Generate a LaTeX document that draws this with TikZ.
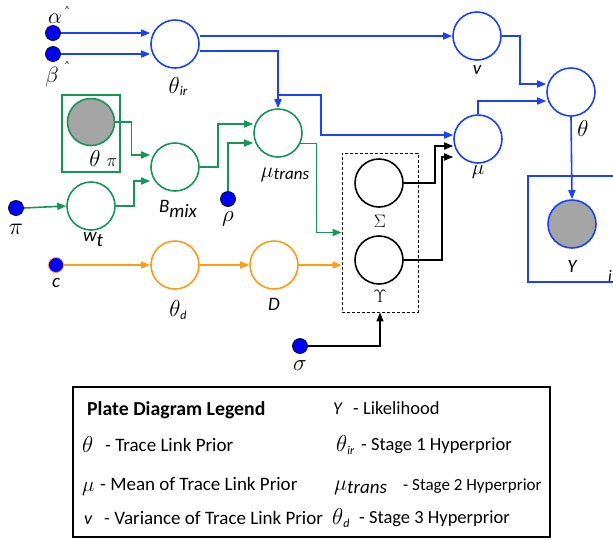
\documentclass[tikz,border=0pt]{standalone}
\usepackage{fix-cm}
\usepackage[no-math]{fontspec}
\setmainfont{Carlito}
\usetikzlibrary{arrows.meta}
\definecolor{pblue}{RGB}{25,65,255}
\definecolor{dblue}{RGB}{0,0,250}
\definecolor{pgreen}{RGB}{20,150,85}
\definecolor{porange}{RGB}{255,155,20}
\definecolor{pgray}{RGB}{165,165,165}
\newcommand{\myfs}[1]{\fontsize{#1}{#1}\selectfont}
\tikzset{
  circ/.style={circle, minimum size=48pt, inner sep=0pt, line width=1.6pt, fill=white},
  bcirc/.style={circ, draw=pblue},
  gcirc/.style={circ, draw=pgreen},
  ocirc/.style={circ, draw=porange},
  kcirc/.style={circ, draw=black},
  hdot/.style={circle, minimum size=15pt, inner sep=0pt, fill=dblue, draw=black, line width=0.7pt},
  tip/.style={-{Triangle[length=9pt,width=7pt]}},
  barr/.style={draw=pblue, line width=1.6pt, tip, pblue},
  garr/.style={draw=pgreen, line width=1.6pt, tip, pgreen},
  oarr/.style={draw=porange, line width=1.6pt, tip, porange},
  karr/.style={draw=black, line width=1.6pt, tip, black},
  lab/.style={inner sep=0pt},
  leg/.style={inner sep=0pt, anchor=base west, font=\myfs{18}},
}
\begin{document}
\begin{tikzpicture}[x=1pt,y=-1pt]
\useasboundingbox (0,0) rectangle (613,539);
\fill[white] (0,0) rectangle (613,539);

% ---- blue part
\node[bcirc] (thir) at (175,44) {};
\node[bcirc] (nu) at (477,36) {};
\node[bcirc] (theta) at (571,92) {};
\node[bcirc] (mu) at (478,139) {};
\draw[pblue, line width=1.6pt] (528,176) rectangle (620,282);
\node[bcirc, fill=pgray] (Y) at (572,224) {};
\node[hdot] (alpha) at (53,33) {};
\node[hdot] (beta) at (53,54) {};

% ---- green part
\draw[pgreen, line width=1.6pt] (62,95) rectangle (120,172);
\node[gcirc, fill=pgray, minimum size=47pt] (thpi) at (91,122) {};
\node[gcirc] (bmix) at (175,167) {};
\node[gcirc] (wt) at (91,206) {};
\node[gcirc] (mutrans) at (278,133) {};
\node[hdot] (pi) at (16,208) {};
\node[hdot] (rho) at (228,199) {};

% ---- black part
\node[draw, dash pattern=on 3pt off 2pt, line width=0.9pt, minimum width=76pt, minimum height=159pt, inner sep=0pt] (box) at (380,232.5) {};
\node[kcirc] (Sig) at (379,183) {};
\node[kcirc] (Ups) at (379,260) {};
\node[hdot] (sigma) at (300,346) {};

% ---- orange part
\node[hdot, draw=porange] (c) at (56,265) {};
\node[ocirc] (thd) at (175,265) {};
\node[ocirc] (D) at (274,265) {};

% ---- blue connectors
\draw[barr] (alpha.east) -- (alpha -| thir.west);
\draw[barr] (beta.east) -- (beta -| thir.west);
\draw[barr] (thir.east |- nu) -- (nu.west);
\draw[barr] ([yshift=-7pt]thir.east) -| (mutrans.north);
\coordinate (br) at (278,95);
\draw[barr] (br) -- ++(43,0) |- ([yshift=4pt]mu.west);
\draw[barr] (nu.east) -- ++(18,0) |- ([yshift=8pt]theta.west);
\draw[barr] (mu.north) |- ([yshift=-9pt]theta.west);
\draw[barr] (theta.south) -- (Y.north);

% ---- green connectors
\draw[garr] (thpi.east) -- ++(16,0) |- ([yshift=12pt]bmix.west);
\draw[garr] (wt.east) -- ++(18,0) |- ([yshift=-14pt]bmix.west);
\draw[garr] (pi.east) -- (wt.west);
\draw[garr] (bmix.east) -- ++(18,0) |- ([yshift=9pt]mutrans.west);
\draw[garr] (rho.north) |- ([yshift=-10pt]mutrans.west);
\draw[garr] (mutrans.-25) -- ++(16,0) |- (box.west);

% ---- black connectors
\draw[karr] (Sig.east) -- ++(31,0) |- ([yshift=-7pt]mu.west);
\draw[karr] (Ups.east) -- ++(38,0) |- ([yshift=-18pt]mu.west);
\draw[karr] (sigma.east) -| (box.south);

% ---- orange connectors
\draw[oarr] (c.east) -- (thd.west);
\draw[oarr] (thd.east) -- (D.west);
\draw[oarr] (D.east) -- (D -| box.west);

% ---- labels
\node[lab] (lalpha) at (55,19) {\myfs{22}$\alpha$};
\node[lab] (lalphah) at (67,9) {\myfs{9}\textasciicircum};
\node[lab] (lbeta) at (52,77) {\myfs{22}$\beta$};
\node[lab] (lbetah) at (67,64) {\myfs{9}\textasciicircum};
\node[lab] (lthir) at (178,87) {\myfs{23}$\theta$\raisebox{-2pt}{\myfs{13}\itshape ir}};
\node[lab] (lnu) at (477,70) {\myfs{19}\itshape v};
\node[lab] (ltheta) at (583,129) {\myfs{23}$\theta$};
\node[lab] (lmu) at (478,172) {\myfs{21}$\mu$};
\node[lab] (lY) at (572,266) {\myfs{19}\itshape Y};
\node[lab] (li) at (610,276) {\myfs{16}\itshape i};
\node[lab] (lthpi1) at (95,159) {\myfs{23}$\theta$};
\node[lab] (lthpi2) at (112,163) {\myfs{18}$\pi$};
\node[lab] (lpi) at (16,229) {\myfs{24}$\pi$};
\node[lab] (lwt) at (93,240) {\myfs{19}\itshape w\raisebox{-5pt}{t}};
\node[lab] (lbmix) at (178,209) {\myfs{19}\itshape B\raisebox{-5pt}{mix}};
\node[lab] (lrho) at (228,219) {\myfs{23}$\rho$};
\node[lab] (lmutrans) at (285,175) {\myfs{22}$\mu$\raisebox{-2pt}{\myfs{17}\itshape trans}};
\node[lab] (lSig) at (380,221) {\myfs{18}$\Sigma$};
\node[lab] (lUps) at (380,296) {\myfs{18}$\Upsilon$};
\node[lab] (lc) at (56,283) {\myfs{19}\itshape c};
\node[lab] (lthd) at (178,310) {\myfs{23}$\theta$\raisebox{-3pt}{\myfs{12}\itshape d}};
\node[lab] (lD) at (274,304) {\myfs{19}\itshape D};
\node[lab] (lsigma) at (300,366) {\myfs{23}$\sigma$};

% ---- legend
\node[draw, line width=1.2pt, minimum width=477pt, minimum height=150pt, inner sep=0pt] (legend) at (311.5,462) {};
\node[leg] (g1) at (87,415) {\myfs{19.8}\bfseries Plate Diagram Legend};
\node[leg] (g2a) at (333,414) {\itshape Y};
\node[leg] (g2b) at (353,414) {\myfs{18.5}- Likelihood};
\node[leg] (g3a) at (82,452) {\myfs{23}$\theta$};
\node[leg] (g3b) at (105,451) {\myfs{19}- Trace Link Prior};
\node[leg] (g4a) at (336,451) {{\myfs{23}$\theta$}\raisebox{-3pt}{\myfs{12}\itshape ir}};
\node[leg] (g4b) at (361,450) {\myfs{18.5}- Stage 1 Hyperprior};
\node[leg] (g5a) at (82,491) {\myfs{21}$\mu$};
\node[leg] (g5b) at (100,490) {\myfs{19}- Mean of Trace Link Prior};
\node[leg] (g6a) at (334,490) {{\myfs{22}$\mu$}\raisebox{-3pt}{\myfs{19}\itshape trans}};
\node[leg] (g6b) at (403,490) {\myfs{17}- Stage 2 Hyperprior};
\node[leg] (g7a) at (84,524) {\itshape v};
\node[leg] (g7b) at (104,524) {\myfs{19}- Variance of Trace Link Prior};
\node[leg] (g8a) at (332,524) {{\myfs{23}$\theta$}\raisebox{-3pt}{\myfs{12}\itshape d}};
\node[leg] (g8b) at (359,523) {\myfs{18.5}- Stage 3 Hyperprior};
\end{tikzpicture}
\end{document}
